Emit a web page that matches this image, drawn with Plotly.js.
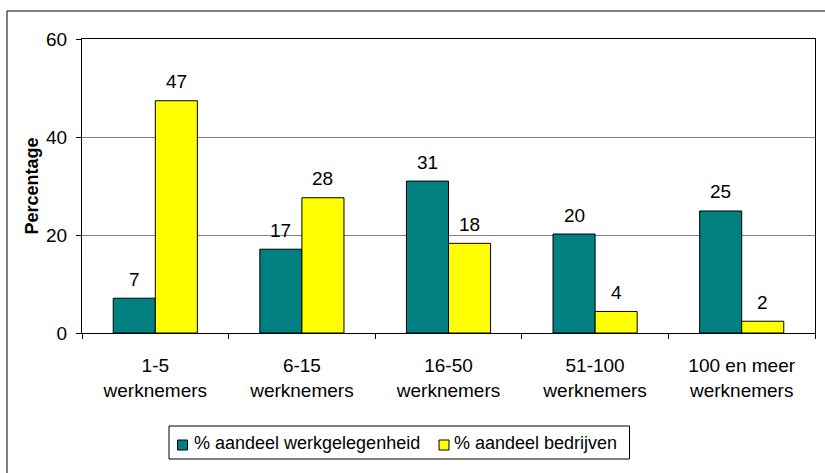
<!DOCTYPE html>
<html>
<head>
<meta charset="utf-8">
<script src="https://cdn.plot.ly/plotly-3.0.1.min.js"></script>
<style>html,body{margin:0;padding:0;background:#fff;}#chart{width:825px;height:473px;}</style>
</head>
<body>
<div id="chart"></div>
<script>
var categories = ["1-5<br>werknemers", "6-15<br>werknemers", "16-50<br>werknemers", "51-100<br>werknemers", "100 en meer<br>werknemers"];
var seriesNames = ["% aandeel werkgelegenheid", "% aandeel bedrijven"];
var werkgelegenheid = [7.1, 17.1, 31.0, 20.2, 24.9];
var bedrijven = [47.4, 27.6, 18.3, 4.4, 2.4];
var yTicks = [0, 20, 40, 60];

var font = "Liberation Sans, Arial, sans-serif";
var colors = ["#008080", "#FFFF00"];
var allSeries = [werkgelegenheid, bedrijven];

// plot area in pixels
var PL = 82, PR = 815, PT = 39, PB = 333;
function px(x) { return (x - PL) / (PR - PL); }
function py(y) { return (PB - y) / (PB - PT); }

var traces = allSeries.map(function (vals, s) {
  return {
    type: "bar",
    name: seriesNames[s],
    x: categories,
    y: vals,
    marker: { color: colors[s], line: { color: "#000", width: 1 } },
    hoverinfo: "skip",
    showlegend: false
  };
});

var annotations = [];
var offsets = [-0.143, 0.143];
allSeries.forEach(function (vals, s) {
  vals.forEach(function (v, i) {
    annotations.push({
      x: i + offsets[s], y: v, xref: "x", yref: "y",
      text: String(Math.round(v)),
      showarrow: false, yanchor: "middle", yshift: 19,
      font: { family: font, size: 19, color: "#000" }
    });
  });
});

// manual legend (box, swatches, labels)
var shapes = [{
  type: "rect", xref: "paper", yref: "paper",
  x0: px(7), x1: px(1000), y0: py(700), y1: py(11),
  line: { color: "#000", width: 1 }, fillcolor: "rgba(0,0,0,0)", layer: "below"
}, {
  type: "rect", xref: "paper", yref: "paper",
  x0: px(169), x1: px(629.5), y0: py(459), y1: py(426),
  line: { color: "#000", width: 1 }, fillcolor: "#fff"
}];
var swatchX = [177.5, 439];
var textX = [192, 452];
seriesNames.forEach(function (name, s) {
  shapes.push({
    type: "rect", xref: "paper", yref: "paper",
    x0: px(swatchX[s]), x1: px(swatchX[s] + 10), y0: py(450), y1: py(440),
    line: { color: "#000", width: 1 }, fillcolor: colors[s]
  });
  annotations.push({
    xref: "paper", yref: "paper", x: px(textX[s]), y: py(443),
    xanchor: "left", yanchor: "middle", text: name, showarrow: false,
    font: { family: font, size: 18, color: "#000" }
  });
});

var layout = {
  width: 825, height: 473,
  margin: { l: PL, r: 825 - PR, t: PT, b: 473 - PB },
  paper_bgcolor: "#fff", plot_bgcolor: "#fff",
  barmode: "group", bargap: 0.426, bargroupgap: 0,
  font: { family: font, color: "#000" },
  showlegend: false,
  xaxis: {
    type: "category", tickson: "boundaries", ticks: "outside", ticklen: 5, tickcolor: "#000",
    showline: true, linecolor: "#000", linewidth: 1, mirror: true,
    showgrid: false, tickfont: { family: font, size: 19, color: "#000" }, ticklabelstandoff: 15
  },
  yaxis: {
    range: [0, 60], tickvals: yTicks, ticks: "outside", ticklen: 5, tickcolor: "#000",
    showline: true, linecolor: "#000", linewidth: 1, mirror: true,
    showgrid: true, gridcolor: "#808080", gridwidth: 1, zeroline: false,
    tickfont: { family: font, size: 19, color: "#000" }, ticklabelstandoff: 5,
    title: { text: "<b>Percentage</b>", font: { family: font, size: 18, color: "#000" }, standoff: 2 }
  },
  annotations: annotations,
  shapes: shapes
};

Plotly.newPlot("chart", traces, layout, { staticPlot: true, displayModeBar: false });
</script>
</body>
</html>
